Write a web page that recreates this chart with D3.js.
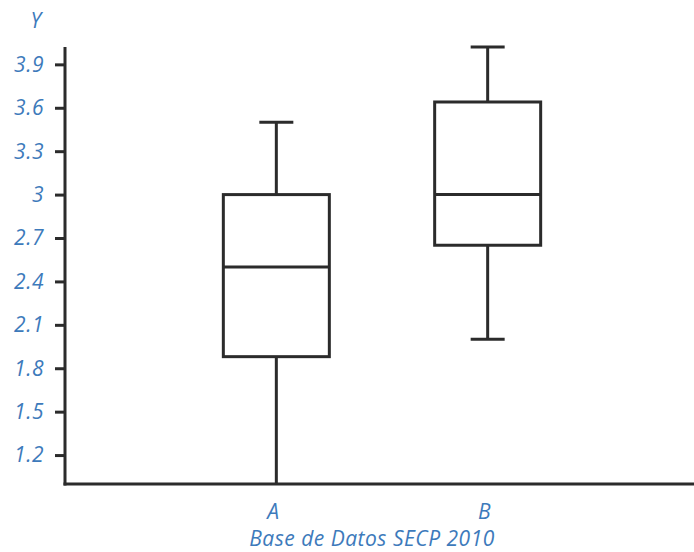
<!DOCTYPE html>
<html>
<head>
<meta charset="utf-8">
<script src="https://cdn.jsdelivr.net/npm/d3@7"></script>
<style>
  html, body { margin: 0; padding: 0; background: #fff; }
  svg text { font-family: "Open Sans", sans-serif; font-style: italic; fill: #3d7abb; letter-spacing: 0.5px; }
</style>
</head>
<body>
<div id="chart"></div>
<script>
// data
const categories = ["A", "B"];
const whiskerLow = [1.0, 2.0];
const quartile1 = [1.88, 2.65];
const medians = [2.5, 3.0];
const quartile3 = [3.0, 3.64];
const whiskerHigh = [3.5, 4.02];
const yTicks = [1.2, 1.5, 1.8, 2.1, 2.4, 2.7, 3.0, 3.3, 3.6, 3.9];
const yLabel = "Y";
const xLabel = "Base de Datos SECP 2010";

const CONFIG = { width: 694, height: 552, left: 65, right: 699, top: 47, bottom: 484 };

function render() {
    const svg = d3.select("#chart").append("svg")
        .attr("width", CONFIG.width)
        .attr("height", CONFIG.height);

    const x = d3.scalePoint().domain(categories).range([CONFIG.left, CONFIG.right]).padding(1);
    const y = d3.scaleLinear().domain([1.0, 4.02]).range([CONFIG.bottom, CONFIG.top]);

    const boxes = categories.map((c, i) => ({
        cat: c, lo: whiskerLow[i], q1: quartile1[i], med: medians[i], q3: quartile3[i], hi: whiskerHigh[i]
    }));

    const ink = "#2b2b2b";
    const boxW = 106, capW = 34;

    // y axis
    const yAxis = svg.append("g")
        .attr("transform", `translate(${CONFIG.left},0)`)
        .call(d3.axisLeft(y).tickValues(yTicks).tickSize(10).tickPadding(11)
            .tickFormat(d => d === 3 ? "3" : d3.format(".1f")(d)));
    yAxis.select(".domain").remove();
    yAxis.selectAll(".tick line").attr("stroke", ink).attr("stroke-width", 3);
    yAxis.selectAll(".tick text").attr("font-size", 21).attr("dy", "0.33em").style("fill", "#3d7abb");

    svg.append("line")
        .attr("x1", CONFIG.left).attr("x2", CONFIG.left)
        .attr("y1", y(4.02)).attr("y2", CONFIG.bottom + 1.5)
        .attr("stroke", ink).attr("stroke-width", 3);

    // boxes
    const g = svg.append("g").selectAll("g").data(boxes).join("g");

    g.append("line")
        .attr("x1", d => x(d.cat)).attr("x2", d => x(d.cat))
        .attr("y1", d => y(d.lo)).attr("y2", d => y(d.hi))
        .attr("stroke", ink).attr("stroke-width", 3);

    g.filter(d => d.lo > 1.0).append("line")
        .attr("x1", d => x(d.cat) - capW / 2).attr("x2", d => x(d.cat) + capW / 2)
        .attr("y1", d => y(d.lo)).attr("y2", d => y(d.lo))
        .attr("stroke", ink).attr("stroke-width", 3);

    g.append("line")
        .attr("x1", d => x(d.cat) - capW / 2).attr("x2", d => x(d.cat) + capW / 2)
        .attr("y1", d => y(d.hi)).attr("y2", d => y(d.hi))
        .attr("stroke", ink).attr("stroke-width", 3);

    g.append("rect")
        .attr("x", d => x(d.cat) - boxW / 2).attr("width", boxW)
        .attr("y", d => y(d.q3)).attr("height", d => y(d.q1) - y(d.q3))
        .attr("fill", "#fff").attr("stroke", ink).attr("stroke-width", 3);

    g.append("line")
        .attr("x1", d => x(d.cat) - boxW / 2).attr("x2", d => x(d.cat) + boxW / 2)
        .attr("y1", d => y(d.med)).attr("y2", d => y(d.med))
        .attr("stroke", ink).attr("stroke-width", 3);

    // x axis line
    svg.append("line")
        .attr("x1", CONFIG.left - 1.5).attr("x2", CONFIG.width)
        .attr("y1", CONFIG.bottom).attr("y2", CONFIG.bottom)
        .attr("stroke", ink).attr("stroke-width", 3);

    // x labels
    svg.append("g").selectAll("text").data(categories).join("text")
        .attr("x", d => x(d) - 3).attr("y", 519)
        .attr("text-anchor", "middle").attr("font-size", 21)
        .text(d => d);

    svg.append("text")
        .attr("x", 372).attr("y", 546)
        .attr("text-anchor", "middle").attr("font-size", 21)
        .text(xLabel);

    svg.append("text")
        .attr("x", 36).attr("y", 28)
        .attr("text-anchor", "middle").attr("font-size", 21)
        .text(yLabel);
}

document.addEventListener("DOMContentLoaded", render);
</script>
</body>
</html>
